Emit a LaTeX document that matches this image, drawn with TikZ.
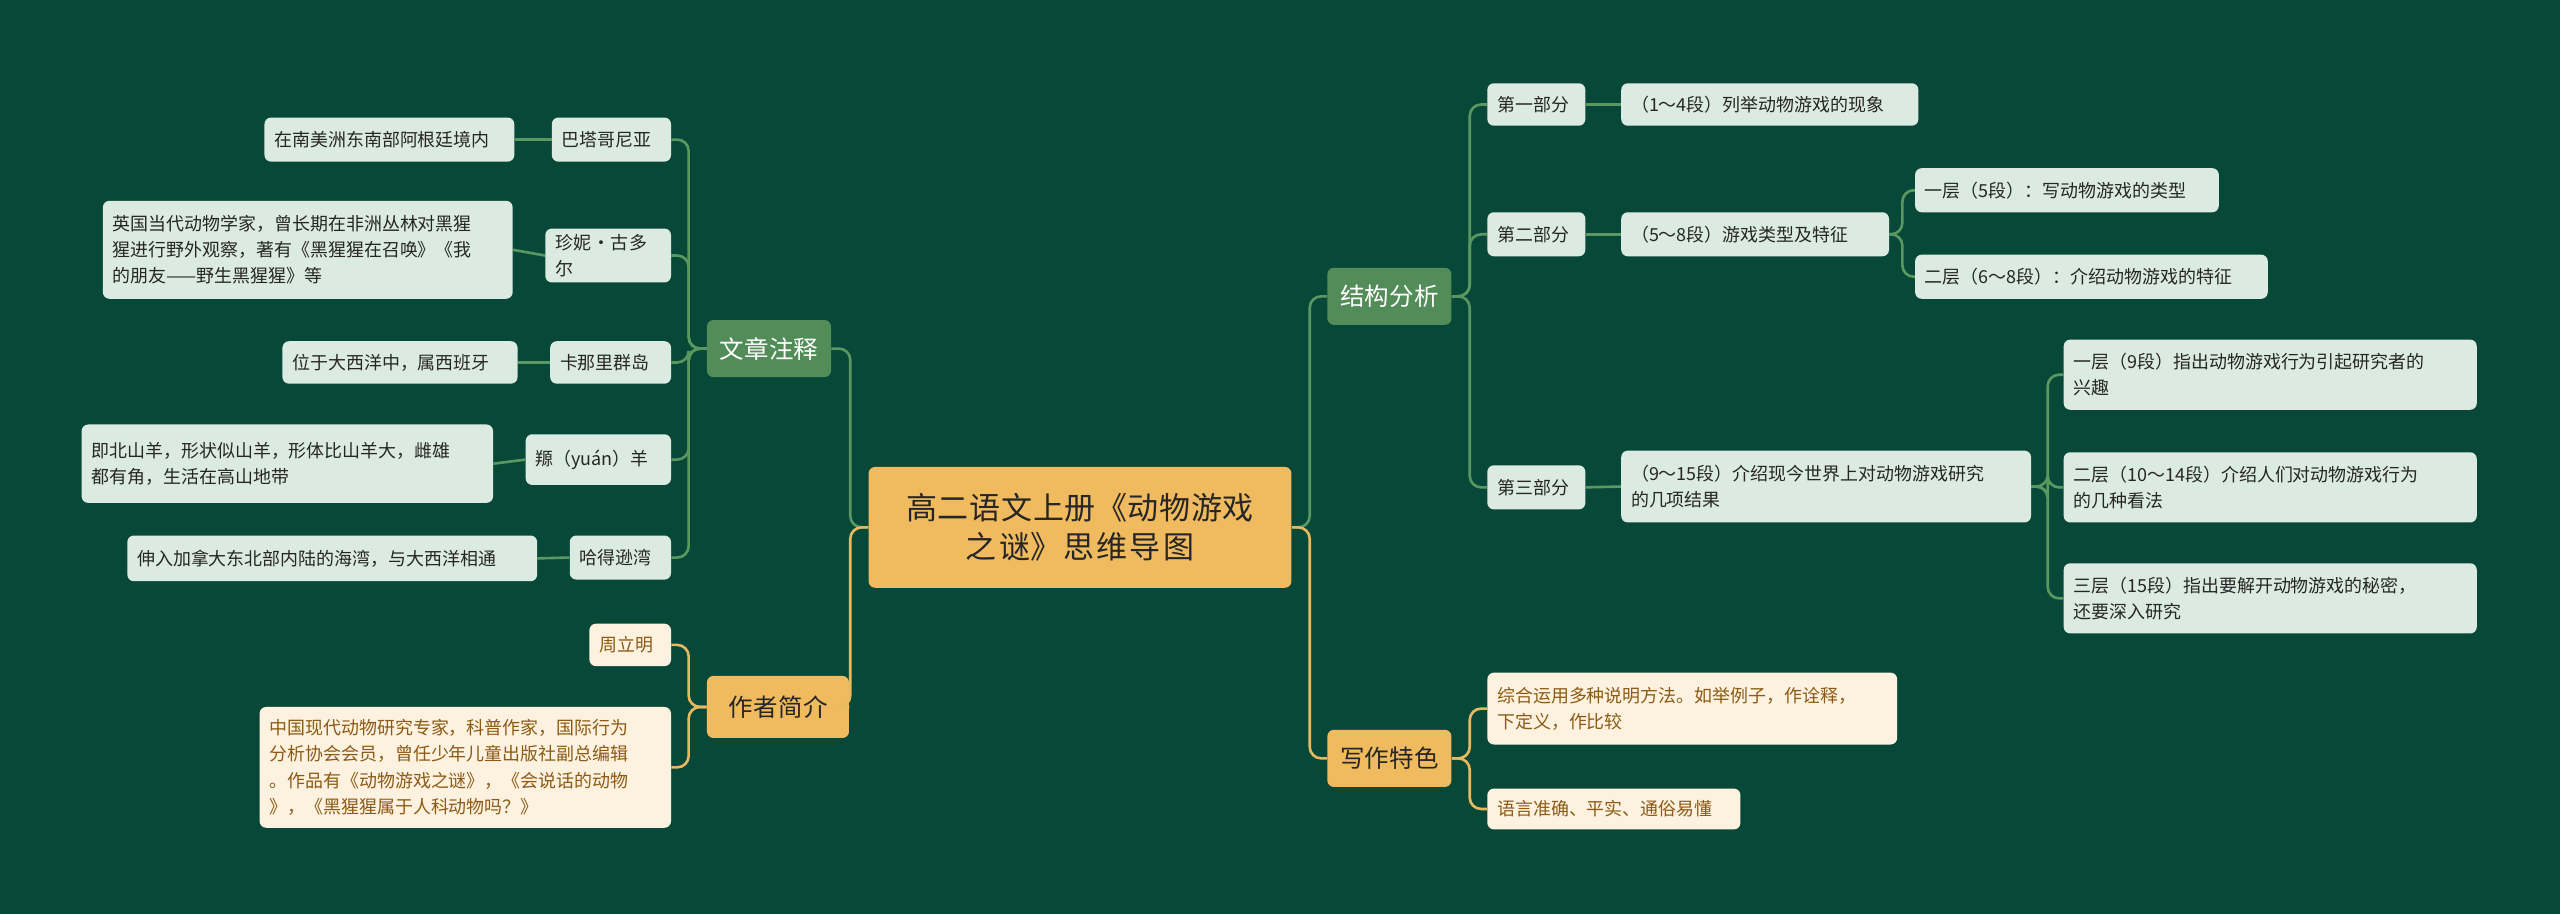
\documentclass[tikz,border=0pt]{standalone}
\usepackage{fontspec}
\setmainfont{Noto Sans CJK SC}
\XeTeXlinebreaklocale "zh"
\XeTeXlinebreakskip=0pt plus 1pt
\usepackage{tikz}

\definecolor{bgcol}{RGB}{8,72,56}
\definecolor{topgreen}{RGB}{82,140,88}
\definecolor{greenline}{RGB}{90,152,98}
\definecolor{topcore}{RGB}{240,187,95}
\definecolor{orangeline}{RGB}{232,185,95}
\definecolor{paleleaf}{RGB}{220,235,225}
\definecolor{palecream}{RGB}{253,242,224}
\definecolor{brownink}{RGB}{140,90,20}

\tikzset{
  box/.style={rounded corners=4pt, inner sep=0pt, align=left},
  rootbox/.style={box, fill=topcore, text=black!85, font=\fontsize{19}{24}\selectfont, align=center},
  greenbox/.style={box, fill=topgreen, text=white, font=\fontsize{15}{18}\selectfont, align=center},
  orangebox/.style={box, fill=topcore, text=black!85, font=\fontsize{15}{18}\selectfont, align=center},
  leafbox/.style={box, fill=paleleaf, text=black!85, font=\fontsize{11}{16}\selectfont},
  creambox/.style={box, fill=palecream, text=brownink, font=\fontsize{11}{16}\selectfont},
  glink/.style={draw=greenline, line width=1.6pt, rounded corners=7pt},
  olink/.style={draw=orangeline, line width=1.6pt, rounded corners=7pt}
}

% box from (x1,y1) to (x2,y2), y counted downwards
\newcommand{\boxat}[7]{%
  \pgfmathsetmacro\bw{#4-#2}\pgfmathsetmacro\bh{#5-#3}%
  \pgfmathsetmacro\tw{#4-#2-12}%
  \node[#1, minimum width=\bw pt, minimum height=\bh pt, text width=\tw pt]
    (#6) at ({(#2+#4)/2},{(#3+#5)/2}) {#7};}

\begin{document}
\begin{tikzpicture}[x=1pt, y=-1pt]
    \fill[bgcol] (0,0) rectangle (1568,560);
    \useasboundingbox (0,0) rectangle (1568,560);

    % root and first level
    \boxat{rootbox}{532}{286}{791}{360}{root}{高二语文上册《动物游戏\\之谜》思维导图}
    \boxat{greenbox}{433}{196}{509}{231}{notes}{文章注释}
    \boxat{orangebox}{433}{414}{520}{452}{author}{作者简介}
    \boxat{greenbox}{813}{164}{889}{199}{struct}{结构分析}
    \boxat{orangebox}{813}{447}{889}{482}{style}{写作特色}

    % notes
    \boxat{leafbox}{338}{72}{411}{99}{n1}{巴塔哥尼亚}
    \boxat{leafbox}{162}{72}{315}{99}{n1a}{在南美洲东南部阿根廷境内}
    \boxat{leafbox}{334}{140}{411}{173}{n2}{珍妮·古多尔}
    \boxat{leafbox}{63}{123}{314}{183}{n2a}{英国当代动物学家，曾长期在非洲丛林对黑猩\\猩进行野外观察，著有《黑猩猩在召唤》《我\\的朋友——野生黑猩猩》等}
    \boxat{leafbox}{337}{209}{411}{235}{n3}{卡那里群岛}
    \boxat{leafbox}{173}{209}{317}{235}{n3a}{位于大西洋中，属西班牙}
    \boxat{leafbox}{322}{266}{411}{297}{n4}{羱（yuán）羊}
    \boxat{leafbox}{50}{260}{302}{308}{n4a}{即北山羊，形状似山羊，形体比山羊大，雌雄\\都有角，生活在高山地带}
    \boxat{leafbox}{349}{328}{411}{355}{n5}{哈得逊湾}
    \boxat{leafbox}{78}{328}{329}{356}{n5a}{伸入加拿大东北部内陆的海湾，与大西洋相通}

    % author
    \boxat{creambox}{361}{382}{411}{408}{a1}{周立明}
    \boxat{creambox}{159}{433}{411}{507}{a2}{中国现代动物研究专家，科普作家，国际行为\\分析协会会员，曾任少年儿童出版社副总编辑\\。作品有《动物游戏之谜》，《会说话的动物\\》，《黑猩猩属于人科动物吗？》}

    % structure
    \boxat{leafbox}{911}{51}{971}{77}{p1}{第一部分}
    \boxat{leafbox}{993}{51}{1175}{77}{p1a}{（1～4段）列举动物游戏的现象}
    \boxat{leafbox}{911}{130}{971}{157}{p2}{第二部分}
    \boxat{leafbox}{993}{130}{1157}{157}{p2a}{（5～8段）游戏类型及特征}
    \boxat{leafbox}{1173}{103}{1359}{130}{p2b}{一层（5段）：写动物游戏的类型}
    \boxat{leafbox}{1173}{156}{1389}{183}{p2c}{二层（6～8段）：介绍动物游戏的特征}
    \boxat{leafbox}{911}{285}{971}{312}{p3}{第三部分}
    \boxat{leafbox}{993}{276}{1244}{320}{p3a}{（9～15段）介绍现今世界上对动物游戏研究\\的几项结果}
    \boxat{leafbox}{1264}{208}{1517}{251}{p3b}{一层（9段）指出动物游戏行为引起研究者的\\兴趣}
    \boxat{leafbox}{1264}{277}{1517}{320}{p3c}{二层（10～14段）介绍人们对动物游戏行为\\的几种看法}
    \boxat{leafbox}{1264}{345}{1517}{388}{p3d}{三层（15段）指出要解开动物游戏的秘密，\\还要深入研究}

    % writing style
    \boxat{creambox}{911}{412}{1162}{456}{w1}{综合运用多种说明方法。如举例子，作诠释，\\下定义，作比较}
    \boxat{creambox}{911}{483}{1066}{508}{w2}{语言准确、平实、通俗易懂}

    % links from root
    \draw[glink] (root.west) -- ++(-11,0) |- (notes.east);
    \draw[olink] (root.west) -- ++(-11,0) |- (author.east);
    \draw[glink] (root.east) -- ++(11,0) |- (struct.west);
    \draw[olink] (root.east) -- ++(11,0) |- (style.west);

    % left branches
    \foreach \k in {n1,n2,n3,n4,n5}
        \draw[glink] (notes.west) -- ++(-11,0) |- (\k.east);
    \foreach \k in {n1,n2,n3,n4,n5}
        \draw[glink] (\k.west) -- (\k a.east);
    \foreach \k in {a1,a2}
        \draw[olink] (author.west) -- ++(-11,0) |- (\k.east);

    % right branches
    \foreach \k in {p1,p2,p3}
        \draw[glink] (struct.east) -- ++(11,0) |- (\k.west);
    \foreach \k in {p1,p2,p3}
        \draw[glink] (\k.east) -- (\k a.west);
    \foreach \k in {p2b,p2c}
        \draw[glink] (p2a.east) -- ++(8,0) |- (\k.west);
    \foreach \k in {p3b,p3c,p3d}
        \draw[glink] (p3a.east) -- ++(10,0) |- (\k.west);
    \foreach \k in {w1,w2}
        \draw[olink] (style.east) -- ++(11,0) |- (\k.west);
\end{tikzpicture}
\end{document}
